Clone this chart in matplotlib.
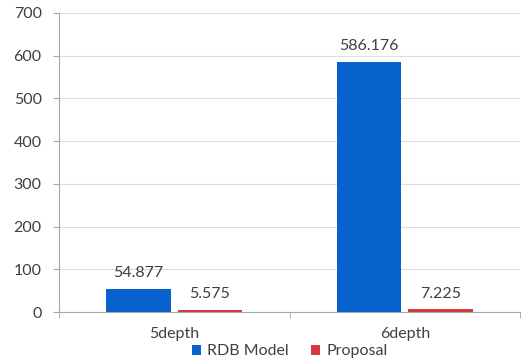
import numpy as np
import matplotlib.pyplot as plt

# execution time per depth
categories = ['5depth', '6depth']
rdb_model = [54.877, 586.176]
proposal = [5.575, 7.225]
series_names = ['RDB Model', 'Proposal']
yticks = [0, 100, 200, 300, 400, 500, 600, 700]

plt.rcParams['font.family'] = ['Lato', 'DejaVu Sans']
text_col = '#404040'

fig = plt.figure(figsize=(5.25, 3.61), dpi=100)
ax = fig.add_axes([0.1124, 0.1357, 0.8781, 0.8283])

x = np.arange(len(categories))
w = 0.278
off = 0.155
b1 = ax.bar(x - off, rdb_model, w, color='#0864CC', label=series_names[0], zorder=3)
b2 = ax.bar(x + off, proposal, w, color='#D8383F', label=series_names[1], zorder=3)

for bars, vals in ((b1, rdb_model), (b2, proposal)):
	for rect, v in zip(bars, vals):
		ax.annotate('{:.3f}'.format(v), (rect.get_x() + rect.get_width() / 2, v),
			xytext=(0, 6), textcoords='offset points', ha='center', va='bottom',
			fontsize=11.5, color=text_col)

ax.set_xlim(-0.5, 1.5)
ax.set_ylim(0, 700)
ax.set_yticks(yticks)
ax.set_xticks(x)
ax.set_xticklabels(categories)
ax.set_xticks([-0.5, 0.5, 1.5], minor=True)
ax.tick_params(axis='x', which='major', length=0, pad=11, labelsize=11.5, labelcolor=text_col)
ax.tick_params(axis='x', which='minor', length=4, color='#A6A6A6', direction='out')
ax.tick_params(axis='y', length=4.5, color='#A6A6A6', pad=8, labelsize=11.5, labelcolor=text_col)

ax.grid(axis='y', color='#DCDCDC', linewidth=0.8, zorder=0)
for s in ('top', 'right'):
	ax.spines[s].set_visible(False)
ax.spines['left'].set_color('#A6A6A6')
ax.spines['bottom'].set_color('#A6A6A6')

ax.legend(loc='center', bbox_to_anchor=(0.5, -0.132), ncol=2, frameon=False,
	fontsize=11.5, labelcolor=text_col, handlelength=0.6, handleheight=0.6,
	handletextpad=0.35, columnspacing=1.4, borderpad=0)

plt.savefig('out.png', dpi=100)
plt.close()
